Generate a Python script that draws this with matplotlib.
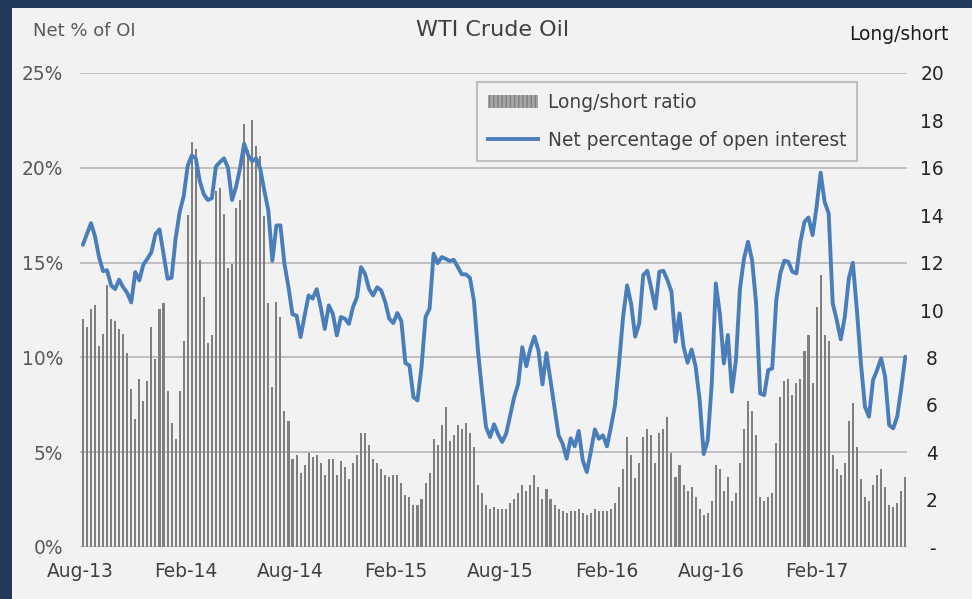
import matplotlib
matplotlib.use('Agg')
import matplotlib.pyplot as plt
import matplotlib.patches as mpatches
from matplotlib.lines import Line2D
from matplotlib.ticker import FuncFormatter, FixedLocator
import pandas as pd

# ---------------- data ----------------
long_short_ratio = [
    9.6, 9.27, 10.03, 10.2, 8.5, 9.0, 11.04, 9.6, 9.52, 9.18, 9.0, 8.17, 6.67, 5.4, 7.09, 6.16, 7.0,
    9.27, 7.92, 10.03, 10.28, 6.58, 5.23, 4.56, 6.58, 8.68, 14.0, 17.09, 16.8, 12.1, 10.53, 8.6, 8.93, 15.0,
    15.16, 14.06, 11.79, 11.95, 14.3, 14.65, 17.86, 16.76, 18.03, 16.93, 16.5, 13.98, 10.28, 6.75, 10.35,
    9.69, 5.74, 5.32, 3.71, 3.88, 3.12, 3.46, 3.97, 3.8, 3.88, 3.54, 3.04, 3.71, 3.71, 3.04, 3.63, 3.38, 2.87, 3.54,
    3.9, 4.82, 4.82, 4.32, 3.73, 3.56, 3.3, 3.05, 2.97, 3.05, 3.05, 2.71, 2.21, 2.12, 1.79, 1.79, 2.04,
    2.71, 3.14, 4.57, 4.32, 5.16, 5.92, 4.49, 4.74, 5.16, 4.99, 5.25, 4.82, 4.23, 2.63, 2.29, 1.79, 1.62,
    1.7, 1.62, 1.62, 1.62, 1.87, 2.04, 2.29, 2.63, 2.38, 2.63, 3.05, 2.55, 2.04, 2.46, 2.04, 1.79, 1.62,
    1.53, 1.45, 1.53, 1.53, 1.62, 1.45, 1.36, 1.45, 1.62, 1.53, 1.53, 1.53, 1.62, 1.87, 2.55, 3.3, 4.66, 3.9,
    2.9, 3.56, 4.66, 4.99, 4.74, 3.56, 4.83, 4.99, 5.5, 3.98, 2.97, 3.47, 2.63, 2.38, 2.55, 2.12, 1.62,
    1.36, 1.45, 1.95, 3.47, 3.31, 2.38, 2.97, 1.95, 2.29, 3.56, 4.99, 6.17, 5.75, 4.74, 2.12, 1.95, 2.12,
    2.29, 4.4, 6.34, 7.02, 7.1, 6.43, 6.93, 7.1, 8.28, 8.96, 6.93, 10.14, 11.48, 8.96, 8.71, 3.9, 3.31,
    3.05, 3.56, 5.33, 6.09, 4.23, 2.88, 2.12, 1.95, 2.63, 3.05, 3.31, 2.55, 1.79, 1.7, 1.87, 2.38, 2.97,
]

net_pct_oi = [
    15.94, 16.5, 17.08, 16.4, 15.3, 14.55, 14.6, 13.8, 13.6, 14.1, 13.7, 13.4, 12.9, 14.5, 14.06, 14.9, 15.2,
    15.55, 16.5, 16.75, 15.47, 14.15, 14.2, 16.26, 17.66, 18.5, 20.1, 20.65, 20.5, 19.3, 18.6, 18.3, 18.4, 20.07,
    20.3, 20.5, 20.0, 18.3, 19.0, 20.0, 21.27, 20.65, 20.35, 20.5, 19.95, 18.8, 17.75, 15.1, 16.96, 16.96,
    14.94, 13.7, 12.27, 12.2, 11.07, 12.2, 13.27, 13.1, 13.6, 12.65, 11.5, 12.74, 12.3, 11.16, 12.13, 12.04, 11.77, 12.65,
    13.18, 14.76, 14.4, 13.6, 13.27, 13.7, 13.53, 12.92, 12.04, 11.81, 12.34, 11.92, 9.7, 9.58, 7.91, 7.73, 9.49,
    12.13, 12.57, 15.47, 14.97, 15.29, 15.2, 15.08, 15.15, 14.76, 14.38, 14.38, 14.2, 13.0, 10.37, 8.26, 6.33, 5.8,
    6.47, 5.94, 5.54, 5.98, 6.94, 7.91, 8.61, 10.54, 9.53, 10.46, 11.1, 10.37, 8.58, 10.23, 8.79, 7.38, 5.89,
    5.45, 4.66, 5.73, 5.31, 6.12, 4.57, 3.95, 5.03, 6.2, 5.71, 5.89, 5.31, 6.33, 7.47, 9.67, 12.13, 13.8, 12.83,
    11.09, 11.79, 14.34, 14.57, 13.64, 12.58, 14.52, 14.57, 14.08, 13.46, 10.83, 12.32, 10.56, 9.72, 10.42, 9.51, 7.75,
    4.9, 5.64, 8.63, 13.9, 12.32, 9.68, 11.18, 8.19, 9.86, 13.64, 15.22, 16.1, 15.13, 12.85, 8.1, 8.01, 9.33,
    9.42, 13.02, 14.43, 15.1, 15.04, 14.52, 14.43, 16.1, 17.15, 17.38, 16.45, 17.94, 19.74, 18.2, 17.59, 12.85, 11.97,
    10.95, 12.14, 14.17, 14.99, 12.5, 9.68, 7.4, 6.87, 8.8, 9.33, 9.95, 8.98, 6.43, 6.26, 6.87, 8.37, 10.04,
]

dates = pd.date_range('2013-08-06', periods=len(long_short_ratio), freq='7D')
tick_labels = ['Aug-13', 'Feb-14', 'Aug-14', 'Feb-15', 'Aug-15', 'Feb-16', 'Aug-16', 'Feb-17']
tick_dates = pd.date_range('2013-08-01', periods=len(tick_labels), freq='6MS')
left_ticks = [0, 5, 10, 15, 20, 25]
right_ticks = [0, 2, 4, 6, 8, 10, 12, 14, 16, 18, 20]

# ---------------- style ----------------
W, H = 972, 599
BG = '#f2f2f2'
NAVY = '#23395b'
GRID = '#bfbfbf'
BAR = '#7f7f7f'
LINE = '#4a7ebb'
FS = 13.4
plt.rcParams['font.family'] = ['DejaVu Sans']

fig = plt.figure(figsize=(W / 100, H / 100), dpi=100, facecolor=NAVY)
fig.add_artist(mpatches.Rectangle((12 / W, 0), 1, 1 - 8 / H, transform=fig.transFigure,
                                  facecolor=BG, edgecolor='none', zorder=-10))

rect = [80 / W, 1 - 547 / H, 827 / W, 474 / H]
ax = fig.add_axes(rect)
ax.patch.set_visible(False)
ax.set_ylim(0, 25)
ax.yaxis.set_major_locator(FixedLocator(left_ticks))
ax.yaxis.set_major_formatter(FuncFormatter(lambda v, _: f'{v:.0f}%'))
ax.grid(axis='y', color=GRID, lw=1.4)
ax.grid(axis='x', visible=False)
for s in ax.spines.values():
    s.set_visible(False)
ax.tick_params(axis='y', length=0, pad=12, labelsize=FS, labelcolor='#595959')
ax.set_xticks(tick_dates)
ax.set_xticklabels(tick_labels)
ax.tick_params(axis='x', length=0, pad=11, labelsize=FS, labelcolor='#404040')
ax.set_xlim(dates[0] - pd.Timedelta(days=5), dates[-1] + pd.Timedelta(days=3))

ax_bar = ax.twinx()
ax_bar.set_ylim(0, 20)
ax_bar.yaxis.set_major_locator(FixedLocator(right_ticks))
ax_bar.yaxis.set_major_formatter(FuncFormatter(lambda v, _: '-' if v == 0 else f'{v:.0f}'))
for s in ax_bar.spines.values():
    s.set_visible(False)
ax_bar.tick_params(axis='y', length=0, pad=18, labelsize=FS, labelcolor='#262626')
ax_bar.bar(dates, long_short_ratio, width=3.6, color=BAR, linewidth=0)
fig.canvas.draw()
for lab in ax_bar.get_yticklabels():
    lab.set_horizontalalignment('center')

ax_line = fig.add_axes(rect, sharex=ax, sharey=ax)
ax_line.patch.set_visible(False)
ax_line.axis('off')
ax_line.plot(dates, net_pct_oi, color=LINE, lw=2.8, solid_joinstyle='round', solid_capstyle='round')

handles = [mpatches.Patch(facecolor='#a6a6a6', edgecolor=BAR, hatch='||||', linewidth=0),
           Line2D([], [], color=LINE, lw=2.8)]
labels = ['Long/short ratio', 'Net percentage of open interest']
leg = ax_line.legend(handles, labels, loc='upper left', bbox_to_anchor=(477 / W, 1 - 82 / H),
                     bbox_transform=fig.transFigure, fontsize=FS, frameon=True, fancybox=False,
                     edgecolor=GRID, facecolor=BG, framealpha=1, borderpad=0.6, handlelength=2.7,
                     handletextpad=0.5, labelspacing=1.0, borderaxespad=0)
leg.get_frame().set_linewidth(1.5)
for t in leg.get_texts():
    t.set_color('#404040')

fig.text(493 / W, 1 - 30 / H, 'WTI Crude Oil', ha='center', va='center', fontsize=16, color='#404040')
fig.text(33 / W, 1 - 31 / H, 'Net % of OI', ha='left', va='center', fontsize=13, color='#595959')
fig.text(899 / W, 1 - 35 / H, 'Long/short', ha='center', va='center', fontsize=FS, color='#1a1a1a')

fig.savefig('out.png', dpi=100, facecolor=NAVY)
